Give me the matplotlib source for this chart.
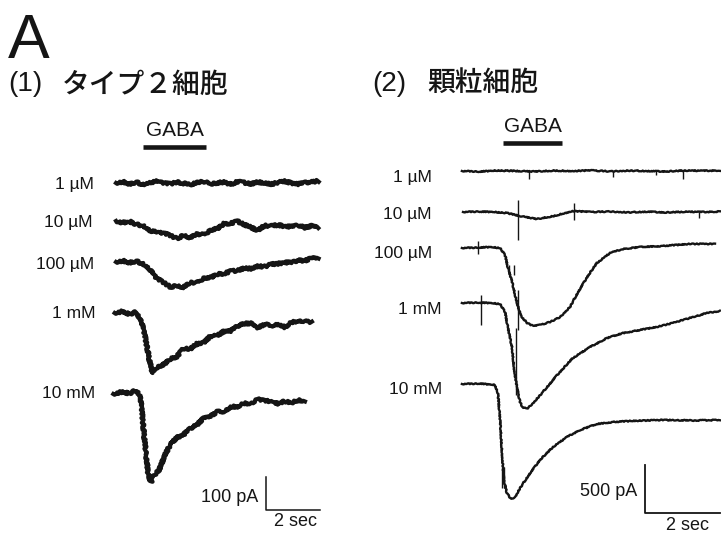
import numpy as np
import matplotlib
matplotlib.use("Agg")
import matplotlib.pyplot as plt

plt.rcParams['font.family'] = ['Liberation Sans', 'Noto Sans CJK JP']

# ---- data (time in s, current in pA, relative to baseline) ----
conc_labels = ["1 \u00b5M", "10 \u00b5M", "100 \u00b5M", "1 mM", "10 mM"]

# (1) type 2 cells
t_l_1uM = [0.0, 0.25, 0.5, 0.75, 1.0, 1.25, 1.5, 1.75, 2.0, 2.25, 2.5, 2.75, 3.0, 3.25, 3.5, 3.75,
           4.0, 4.25, 4.5, 4.75, 5.0, 5.25, 5.5, 5.75, 6.0, 6.25, 6.5, 6.75, 7.0, 7.25, 7.5]
i_l_1uM = [0, 4, -3, 2, -4, 1, 5, 0, -3, 3, -1, -5, 1, 4, -2, 0, 3, -4, 4, 1, -3, 3, 0, -4, 2, 5,
           0, -3, 1, 3, 7]
t_l_10uM = t_l_1uM
i_l_10uM = [3, -2, 2, -8, -10, -26, -31, -34, -40, -50, -41, -47, -37, -38, -25, -20, -5, -4, 2,
            -8, -16, -26, -11, -12, -9, -13, -14, -10, -17, -11, -15]
t_l_100uM = t_l_1uM
i_l_100uM = [0, 4, -2, 2, -5, -22, -50, -61, -75, -73, -76, -63, -62, -49, -47, -37, -35, -28,
             -26, -19, -20, -13, -14, -7, -5, -1, -2, 5, 4, 13, 14]
t_l_1mM = [-0.05, 0.25, 0.5, 0.75, 0.95, 1.1, 1.25, 1.35, 1.5, 1.75, 2.0, 2.25, 2.5, 2.75, 3.0,
           3.25, 3.5, 3.75, 4.0, 4.25, 4.5, 4.75, 5.0, 5.25, 5.5, 5.75, 6.0, 6.25, 6.5, 6.75, 7.0, 7.25]
i_l_1mM = [0, 5, -4, 3, -27, -81, -147, -182, -165, -157, -140, -132, -108, -109, -93, -90, -70,
           -69, -55, -54, -40, -32, -31, -44, -34, -39, -33, -43, -28, -24, -25, -29]
t_l_10mM = [-0.1, 0.25, 0.5, 0.75, 0.9, 1.0, 1.1, 1.2, 1.3, 1.45, 1.6, 1.8, 2.0, 2.25, 2.5, 2.75,
            3.0, 3.25, 3.5, 3.75, 4.0, 4.25, 4.5, 4.75, 5.0, 5.25, 5.5, 5.75, 6.0, 6.25, 6.5, 6.75, 7.0]
i_l_10mM = [-3, 4, -2, 9, -9, -90, -177, -249, -270, -246, -233, -190, -158, -135, -126, -108, -96,
            -75, -69, -57, -56, -42, -41, -31, -32, -19, -24, -25, -32, -25, -29, -22, -23]
gaba_l = [1.0, 3.33]

# (2) granule cells
t_r_1uM = [0.05, 0.5, 1.0, 1.5, 2.0, 2.5, 3.0, 3.5, 4.0, 4.5, 5.0, 5.5, 6.0, 6.5, 6.93]
i_r_1uM = [0, -6, 5, 0, -5, 4, 0, 6, -4, 4, 0, -5, 5, 2, 6]
t_r_10uM = [0.08, 0.5, 0.9, 1.25, 1.6, 2.05, 2.5, 3.0, 3.5, 4.0, 4.5, 5.0, 5.5, 6.0, 6.5, 6.93]
i_r_10uM = [0, 5, 0, -10, -42, -73, -42, 10, 0, 5, -4, 4, -5, 3, 0, 5]
t_r_100uM = [0.05, 0.5, 0.8, 1.07, 1.2, 1.28, 1.39, 1.47, 1.55, 1.65, 1.79, 1.95, 2.13, 2.4, 2.67,
             2.93, 3.15, 3.39, 3.65, 4.0, 4.35, 4.8, 5.41, 6.13, 6.8]
i_r_100uM = [0, 5, 10, 0, -73, -208, -354, -490, -615, -719, -781, -813, -802, -771, -719, -615,
             -458, -302, -156, -52, -10, 10, 21, 42, 42]
t_r_1mM = [0.05, 0.5, 0.8, 1.07, 1.2, 1.28, 1.39, 1.44, 1.52, 1.6, 1.68, 1.81, 1.95, 2.21, 2.59,
           3.01, 3.47, 3.92, 4.35, 4.8, 5.25, 5.68, 6.13, 6.59, 6.93]
i_r_1mM = [0, 5, 0, -10, -94, -260, -469, -677, -886, -1031, -1094, -1094, -1042, -927, -750,
           -573, -458, -365, -313, -281, -250, -208, -156, -104, -83]
t_r_10mM = [0.05, 0.53, 0.93, 1.01, 1.07, 1.12, 1.17, 1.25, 1.36, 1.47, 1.6, 1.87, 2.13, 2.48, 2.85,
            3.2, 3.65, 4.08, 4.53, 5.41, 6.2, 6.93]
i_r_10mM = [0, 5, -10, -94, -375, -719, -1000, -1136, -1198, -1177, -1084, -927, -792, -656, -552,
            -479, -417, -396, -386, -375, -380, -375]
gaba_r = [1.15, 2.72]

# stimulus artefacts on the granule-cell traces: time, low end, high end (pA)
art_r_1uM = ([1.84, 4.08, 5.23, 5.95], [-83, -62, -42, -83], [0, 0, 0, 0])
art_r_10uM = ([1.55, 3.04, 6.37], [-291, -83, -62], [125, 94, 0])
art_r_100uM = ([0.48, 1.31, 1.44, 1.55], [-62, -281, -281, -854], [73, -177, -177, -438])
art_r_1mM = ([0.56, 1.49], [-229, -958], [83, -260])
art_r_10mM = ([1.12, 1.17], [-1080, -1080], [-860, -860])

# ---- layout (pixels of the 721 x 539 picture) ----
W, H = 721, 539
INK = "#151515"
fig = plt.figure(figsize=(W / 100, H / 100), dpi=100)


def panel(px_from, px_to, x0, px_per_s, px_per_pa):
    ax = fig.add_axes([px_from / W, 0, (px_to - px_from) / W, 1])
    ax.set_xlim((px_from - x0) / px_per_s, (px_to - x0) / px_per_s)
    ax.set_ylim(0, H / px_per_pa)
    ax.axis('off')
    return ax


def ftext(px, py, s, **kw):
    fig.text(px / W, 1 - py / H, s, color=INK, **kw)


L_PXPA, R_PXPA = 0.33, 0.096
ax_l = panel(0, 360, 116, 27.0, L_PXPA)
ax_r = panel(360, 721, 460, 37.5, R_PXPA)

# left traces (noisy recordings -> jittered stroke)
l_traces = [(t_l_1uM, i_l_1uM), (t_l_10uM, i_l_10uM), (t_l_100uM, i_l_100uM),
            (t_l_1mM, i_l_1mM), (t_l_10mM, i_l_10mM)]
l_base = [183, 222, 262, 313, 393]
for (t, v), b in zip(l_traces, l_base):
    ln, = ax_l.plot(t, np.array(v) + (H - b) / L_PXPA, color=INK, lw=3.0,
                    solid_joinstyle='round')
    ln.set_sketch_params(scale=1.2, length=2.0, randomness=3)

# right traces
r_traces = [(t_r_1uM, i_r_1uM), (t_r_10uM, i_r_10uM), (t_r_100uM, i_r_100uM),
            (t_r_1mM, i_r_1mM), (t_r_10mM, i_r_10mM)]
r_arts = [art_r_1uM, art_r_10uM, art_r_100uM, art_r_1mM, art_r_10mM]
r_base = [171, 212, 248, 303, 384]
for (t, v), (at, lo, hi), b in zip(r_traces, r_arts, r_base):
    off = (H - b) / R_PXPA
    ln, = ax_r.plot(t, np.array(v) + off, color=INK, lw=1.7, solid_joinstyle='round')
    ln.set_sketch_params(scale=0.5, length=3, randomness=3)
    ax_r.vlines(at, np.array(lo) + off, np.array(hi) + off, color=INK, lw=1.0)

# GABA bars
ax_l.plot(gaba_l, [(H - 147) / L_PXPA] * 2, color=INK, lw=3.3, solid_capstyle='butt')
ax_r.plot(gaba_r, [(H - 143) / R_PXPA] * 2, color=INK, lw=3.3, solid_capstyle='butt')
ax_l.text(np.mean(gaba_l), (H - 131) / L_PXPA, "GABA", ha='center', va='center',
          fontsize=15, color=INK)
ax_r.text(np.mean(gaba_r), (H - 127) / R_PXPA, "GABA", ha='center', va='center',
          fontsize=15, color=INK)

# scale bars
sx, sy = (266 - 116) / 27.0, (H - 510) / L_PXPA
ax_l.plot([sx, sx, sx + 2], [sy + 100, sy, sy], color=INK, lw=1.1, clip_on=False)
sx, sy = (645 - 460) / 37.5, (H - 513) / R_PXPA
ax_r.plot([sx, sx, sx + 2], [sy + 500, sy, sy], color=INK, lw=1.3, clip_on=False)
ftext(258, 497, "100 pA", ha='right', va='center', fontsize=13)
ftext(295, 521, "2 sec", ha='center', va='center', fontsize=13)
ftext(637, 491, "500 pA", ha='right', va='center', fontsize=13)
ftext(687, 525, "2 sec", ha='center', va='center', fontsize=13)

# concentration labels
for s, px, py in zip(conc_labels, [94, 93, 94, 95, 95], [185, 223, 265, 313, 393]):
    ftext(px, py, s, ha='right', va='center', fontsize=12.5)
for s, px, py in zip(conc_labels, [432, 432, 432, 442, 442], [177, 215, 253, 310, 389]):
    ftext(px, py, s, ha='right', va='center', fontsize=12.5)

# headings
ftext(8, 58, "A", ha='left', va='baseline', fontsize=45)
ftext(8, 84, "(1)", ha='left', va='center', fontsize=20)
ftext(62, 86, "タイプ２細胞", ha='left', va='center', fontsize=20, fontweight='medium')
ftext(372, 84, "(2)", ha='left', va='center', fontsize=20)
ftext(427, 84, "顆粒細胞", ha='left', va='center', fontsize=20, fontweight='medium')

fig.savefig("out.png", dpi=100, facecolor='white')
